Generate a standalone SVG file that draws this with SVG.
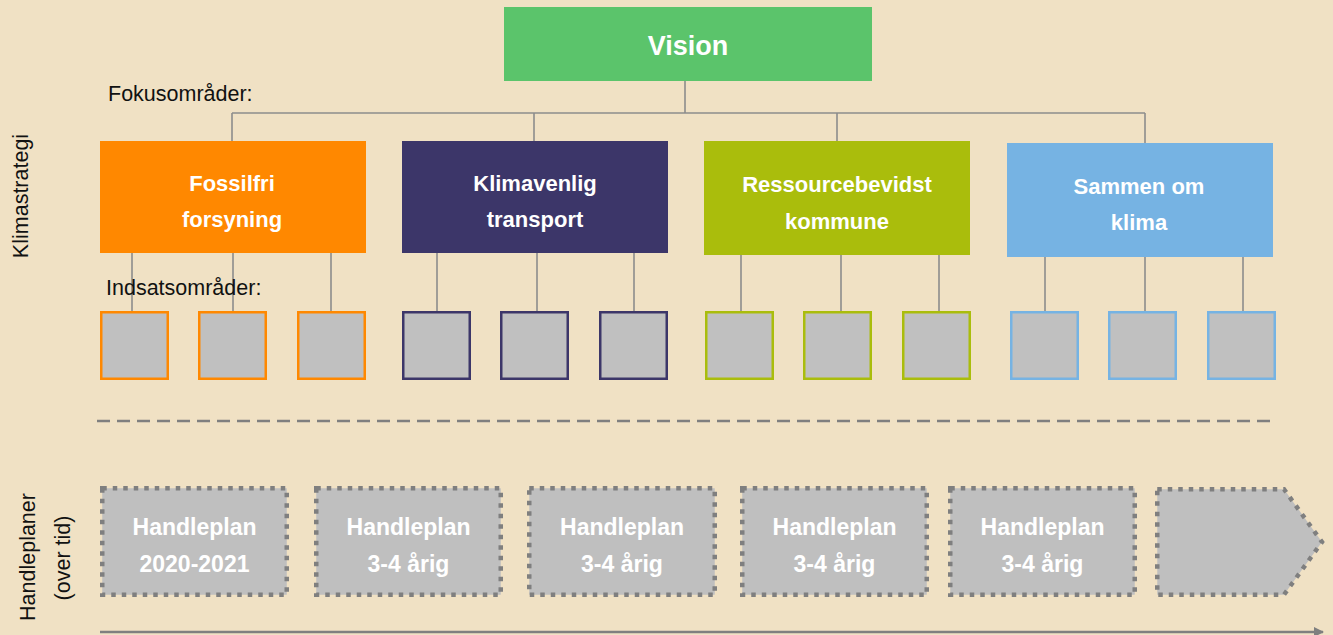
<svg xmlns="http://www.w3.org/2000/svg" width="1333" height="635" viewBox="0 0 1333 635">
<defs>
<style>
.bg{fill:#F0E1C4}
.conn{stroke:#8C8C8C;stroke-width:1.6;fill:none}
.lbl{font-family:"Liberation Sans",Arial,sans-serif;font-size:21.5px;fill:#111111}
.w{font-family:"Liberation Sans",Arial,sans-serif;font-weight:bold;fill:#FFFFFF;text-anchor:middle}
.f22{font-size:22px}
.f23{font-size:23px}
.sq{fill:#C0C0C0;stroke-width:2.5}
.hp{fill:#BFBFBF;stroke:#7F7F7F;stroke-width:4.5;stroke-dasharray:4.5 6}
</style>
<marker id="arr" viewBox="0 0 10 10" refX="9" refY="5" markerWidth="4" markerHeight="4" orient="auto" markerUnits="strokeWidth">
<path d="M0,0 L10,5 L0,10 z" fill="#7F7F7F"/>
</marker>
</defs>
<rect class="bg" x="0" y="0" width="1333" height="635"/>

<g id="connectors">
<line class="conn" x1="685" y1="81" x2="685" y2="113"/>
<line class="conn" x1="232" y1="113" x2="1145" y2="113"/>
<line class="conn" x1="232" y1="113" x2="232" y2="141"/>
<line class="conn" x1="534" y1="113" x2="534" y2="141"/>
<line class="conn" x1="837" y1="113" x2="837" y2="141"/>
<line class="conn" x1="1145" y1="113" x2="1145" y2="143"/>
<line class="conn" x1="132" y1="253" x2="132" y2="311"/>
<line class="conn" x1="233" y1="253" x2="233" y2="311"/>
<line class="conn" x1="331" y1="253" x2="331" y2="311"/>
<line class="conn" x1="437" y1="253" x2="437" y2="311"/>
<line class="conn" x1="537" y1="253" x2="537" y2="311"/>
<line class="conn" x1="634" y1="253" x2="634" y2="311"/>
<line class="conn" x1="741" y1="255" x2="741" y2="311"/>
<line class="conn" x1="841" y1="255" x2="841" y2="311"/>
<line class="conn" x1="939" y1="255" x2="939" y2="311"/>
<line class="conn" x1="1045" y1="257" x2="1045" y2="311"/>
<line class="conn" x1="1145" y1="257" x2="1145" y2="311"/>
<line class="conn" x1="1243" y1="257" x2="1243" y2="311"/>
</g>

<g id="labels">
<text class="lbl" x="108" y="101">Fokusområder:</text>
<text class="lbl" x="106" y="295">Indsatsområder:</text>
<text class="lbl" text-anchor="middle" transform="translate(27.5,196) rotate(-90)">Klimastrategi</text>
<text class="lbl" text-anchor="middle" transform="translate(35,557) rotate(-90)">Handleplaner</text>
<text class="lbl" text-anchor="middle" transform="translate(70,558) rotate(-90)">(over tid)</text>
</g>

<g id="vision">
<rect x="504" y="7" width="368" height="74" fill="#5BC46B"/>
<text class="w" x="688" y="55" font-size="27">Vision</text>
</g>

<g id="fokus-fossilfri">
<rect x="100" y="141" width="266" height="112" fill="#FF8800"/>
<text class="w f22" x="232" y="191">Fossilfri</text>
<text class="w f22" x="232" y="227">forsyning</text>
</g>
<g id="fokus-klimavenlig">
<rect x="402" y="141" width="266" height="112" fill="#3C3669"/>
<text class="w f22" x="535" y="191">Klimavenlig</text>
<text class="w f22" x="535" y="227">transport</text>
</g>
<g id="fokus-ressource">
<rect x="704" y="141" width="266" height="114" fill="#AABD0C"/>
<text class="w f22" x="837" y="192">Ressourcebevidst</text>
<text class="w f22" x="837" y="229">kommune</text>
</g>
<g id="fokus-sammen">
<rect x="1007" y="143" width="266" height="114" fill="#76B3E3"/>
<text class="w f22" x="1139" y="194">Sammen om</text>
<text class="w f22" x="1139" y="230">klima</text>
</g>

<g id="indsats-orange" stroke="#FF8800">
<rect class="sq" x="101.25" y="312.25" width="66.5" height="66.5"/>
<rect class="sq" x="199.25" y="312.25" width="66.5" height="66.5"/>
<rect class="sq" x="298.25" y="312.25" width="66.5" height="66.5"/>
</g>
<g id="indsats-purple" stroke="#3C3669">
<rect class="sq" x="403.25" y="312.25" width="66.5" height="66.5"/>
<rect class="sq" x="501.25" y="312.25" width="66.5" height="66.5"/>
<rect class="sq" x="600.25" y="312.25" width="66.5" height="66.5"/>
</g>
<g id="indsats-green" stroke="#AABD0C">
<rect class="sq" x="706.25" y="312.25" width="66.5" height="66.5"/>
<rect class="sq" x="804.25" y="312.25" width="66.5" height="66.5"/>
<rect class="sq" x="903.25" y="312.25" width="66.5" height="66.5"/>
</g>
<g id="indsats-blue" stroke="#76B3E3">
<rect class="sq" x="1011.25" y="312.25" width="66.5" height="66.5"/>
<rect class="sq" x="1109.25" y="312.25" width="66.5" height="66.5"/>
<rect class="sq" x="1208.25" y="312.25" width="66.5" height="66.5"/>
</g>

<g id="divider">
<line x1="97" y1="421" x2="1275" y2="421" stroke="#7F7F7F" stroke-width="2.5" stroke-dasharray="13 7"/>
</g>

<g id="handleplan-1">
<rect class="hp" x="102.25" y="488.25" width="184.5" height="106.5"/>
<text class="w f23" x="194.5" y="535">Handleplan</text>
<text class="w f23" x="194.5" y="572">2020-2021</text>
</g>
<g id="handleplan-2">
<rect class="hp" x="316.25" y="488.25" width="184.5" height="106.5"/>
<text class="w f23" x="408.5" y="535">Handleplan</text>
<text class="w f23" x="408.5" y="572">3-4 årig</text>
</g>
<g id="handleplan-3">
<rect class="hp" x="529.25" y="488.25" width="185.5" height="106.5"/>
<text class="w f23" x="622" y="535">Handleplan</text>
<text class="w f23" x="622" y="572">3-4 årig</text>
</g>
<g id="handleplan-4">
<rect class="hp" x="742.25" y="488.25" width="184.5" height="106.5"/>
<text class="w f23" x="834.5" y="535">Handleplan</text>
<text class="w f23" x="834.5" y="572">3-4 årig</text>
</g>
<g id="handleplan-5">
<rect class="hp" x="950.25" y="488.25" width="184.5" height="106.5"/>
<text class="w f23" x="1042.5" y="535">Handleplan</text>
<text class="w f23" x="1042.5" y="572">3-4 årig</text>
</g>
<g id="handleplan-next">
<polygon class="hp" points="1157.25,489.25 1284,489.25 1322,542 1284,594.75 1157.25,594.75"/>
</g>

<g id="timeline">
<line x1="100" y1="632" x2="1323" y2="632" stroke="#7F7F7F" stroke-width="2.5" marker-end="url(#arr)"/>
</g>
</svg>
